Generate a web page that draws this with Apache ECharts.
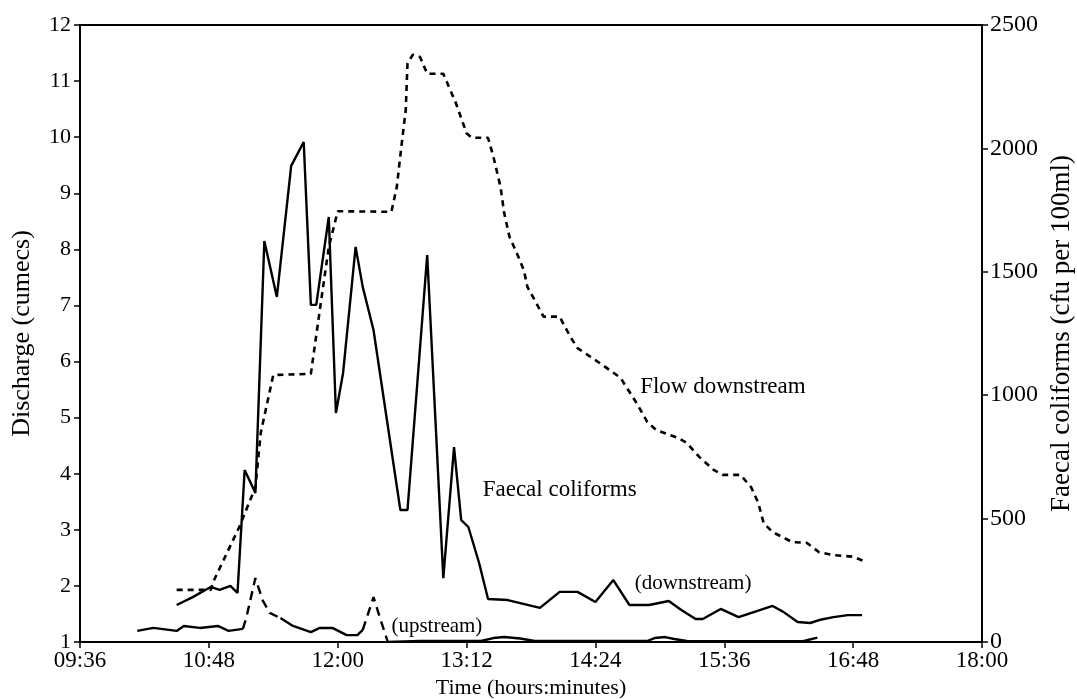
<!DOCTYPE html>
<html>
<head>
<meta charset="utf-8">
<script src="https://cdn.jsdelivr.net/npm/echarts@6/dist/echarts.min.js"></script>
<style>
html,body{margin:0;padding:0;background:#fff;}
#chart{width:1077px;height:699px;}
</style>
</head>
<body>
<div id="chart"></div>
<script>
// ---- Data (time in minutes since midnight) ----
const xTickLabels = ['09:36','10:48','12:00','13:12','14:24','15:36','16:48','18:00'];
const leftTicks = [1,2,3,4,5,6,7,8,9,10,11,12];
const rightTicks = [0,500,1000,1500,2000,2500];

// Flow downstream (discharge, cumecs)
const flowTime = [630,649,651,665,674,677,684,705,710,715,720,750,753,756,758,759,762,766,770,779,786,792,795,804,807,811,813,816,820,824,826,831,835,844,850,854,867,878,887,893,898,910,915,922,930,935,945,951,955,958,963,974,982,989,997,1008,1015];
const flowDischarge = [1.93,1.93,2.11,3.05,3.76,4.73,5.76,5.78,6.92,8.04,8.68,8.67,9.11,9.95,10.48,11.32,11.47,11.43,11.13,11.13,10.61,10.07,9.99,9.99,9.65,9.11,8.65,8.22,7.94,7.63,7.33,7.04,6.80,6.80,6.44,6.24,5.96,5.71,5.26,4.92,4.78,4.64,4.55,4.30,4.07,3.98,3.98,3.76,3.48,3.12,2.96,2.78,2.77,2.60,2.55,2.52,2.43];

// Faecal coliforms downstream (cfu per 100ml)
const coliTime = [630,639,649,654,660,664,668,674,679,686,694,701,705,708,715,719,723,730,734,740,755,759,770,779,785,789,793,799,804,815,833,844,854,864,874,883,894,905,912,920,924,934,944,963,969,977,984,989,997,1005,1013];
const coliDown = [150,182,223,211,227,199,697,604,1625,1398,1929,2026,1366,1366,1722,928,1090,1601,1438,1264,535,535,1568,259,790,494,466,320,174,170,138,203,203,162,251,150,150,166,130,93,93,134,101,146,122,81,77,89,101,109,109];

// Faecal coliforms upstream (cfu per 100ml)
const upTime = [608,617,630,634,643,653,659,667,669,674,678,682,688,695,705,710,717,725,731,734,740,744,748,766,800,807,813,822,830,893,897,903,908,915,980,988];
const upValue = [45,57,45,65,57,65,45,53,101,259,170,118,97,65,40,57,57,28,28,49,182,89,0,4,4,16,20,14,4,4,16,20,12,4,3,18];

// ---- Chart ----
const FONT = '"Liberation Serif", "DejaVu Serif", serif';
const chart = echarts.init(document.getElementById('chart'));

function pairs(xs, ys, a, b) {
  const out = [];
  const s = a === undefined ? 0 : a;
  const e = b === undefined ? xs.length - 1 : b;
  for (let i = s; i <= e; i++) out.push([xs[i], ys[i]]);
  return out;
}
const pad = n => (n < 10 ? '0' : '') + n;
function timeLabel(v) {
  const idx = Math.round((v - 576) / 72);
  if (idx >= 0 && idx < xTickLabels.length) return xTickLabels[idx];
  return pad(Math.floor(v / 60)) + ':' + pad(v % 60);
}

const upSolid = {type: 'solid', width: 2.4, color: '#000'};
const upDashed = {type: [9, 6], width: 2.4, color: '#000'};

function lineSeries(name, data, yAxisIndex, lineStyle) {
  return {
    name, type: 'line', data, yAxisIndex,
    showSymbol: false, symbol: 'none', smooth: false,
    lineStyle, animation: false, z: 3
  };
}

const tickStyle = {show: true, inside: false, length: 6, lineStyle: {color: '#000', width: 1.5}};
const lineAxis = {show: true, lineStyle: {color: '#000', width: 2}};

chart.setOption({
  animation: false,
  backgroundColor: '#fff',
  grid: {left: 80, right: 95, top: 25, bottom: 57, show: true, borderColor: '#000', borderWidth: 2,
         containLabel: false, outerBoundsMode: 'none'},
  xAxis: {
    type: 'value', min: 576, max: 1080, interval: 72,
    name: 'Time (hours:minutes)', nameLocation: 'middle', nameGap: 34,
    nameTextStyle: {color: '#000', fontFamily: FONT, fontSize: 22},
    axisLine: lineAxis,
    axisTick: tickStyle,
    axisLabel: {formatter: timeLabel, margin: 7, showMinLabel: true, showMaxLabel: true, color: '#000', fontFamily: FONT, fontSize: 23},
    splitLine: {show: false}
  },
  yAxis: [
    {
      type: 'value', min: leftTicks[0], max: leftTicks[leftTicks.length - 1], interval: 1, position: 'left',
      name: 'Discharge (cumecs)', nameLocation: 'middle', nameGap: 45,
      nameTextStyle: {color: '#000', fontFamily: FONT, fontSize: 26},
      axisLine: lineAxis,
      axisTick: tickStyle,
      axisLabel: {margin: 9, color: '#000', fontFamily: FONT, fontSize: 22},
      splitLine: {show: false}
    },
    {
      type: 'value', min: rightTicks[0], max: rightTicks[rightTicks.length - 1], interval: 500, position: 'right',
      name: 'Faecal coliforms (cfu per 100ml)', nameLocation: 'middle', nameGap: 62, nameRotate: 90,
      nameTextStyle: {color: '#000', fontFamily: FONT, fontSize: 27},
      axisLine: lineAxis,
      axisTick: tickStyle,
      axisLabel: {margin: 8, color: '#000', fontFamily: FONT, fontSize: 24, formatter: v => String(v)},
      splitLine: {show: false}
    }
  ],
  series: [
    lineSeries('Flow downstream', pairs(flowTime, flowDischarge), 0, {type: [6, 5], width: 2.6, color: '#000'}),
    lineSeries('Faecal coliforms (downstream)', pairs(coliTime, coliDown), 1, {type: 'solid', width: 2.4, color: '#000'}),
    lineSeries('up1', pairs(upTime, upValue, 0, 7), 1, upSolid),
    lineSeries('up2', pairs(upTime, upValue, 7, 12), 1, upDashed),
    lineSeries('up3', pairs(upTime, upValue, 12, 19), 1, upSolid),
    lineSeries('up4', pairs(upTime, upValue, 19, 22), 1, upDashed),
    lineSeries('up5', pairs(upTime, upValue, 22), 1, upSolid)
  ]
});

// Annotations anchored in data coordinates (time, discharge)
const notes = [
  {text: 'Flow downstream', t: 889, d: 5.55, size: 23},
  {text: 'Faecal coliforms', t: 801, d: 3.71, size: 23},
  {text: '(downstream)', t: 886, d: 2.05, size: 21},
  {text: '(upstream)', t: 750, d: 1.27, size: 21}
];
const graphics = notes.map(n => {
  const p = chart.convertToPixel({xAxisIndex: 0, yAxisIndex: 0}, [n.t, n.d]);
  return {
    type: 'text', x: p[0], y: p[1], z: 10,
    style: {text: n.text, fill: '#000', font: n.size + 'px ' + FONT, textAlign: 'left', textVerticalAlign: 'middle'}
  };
});
chart.setOption({graphic: graphics});
</script>
</body>
</html>
